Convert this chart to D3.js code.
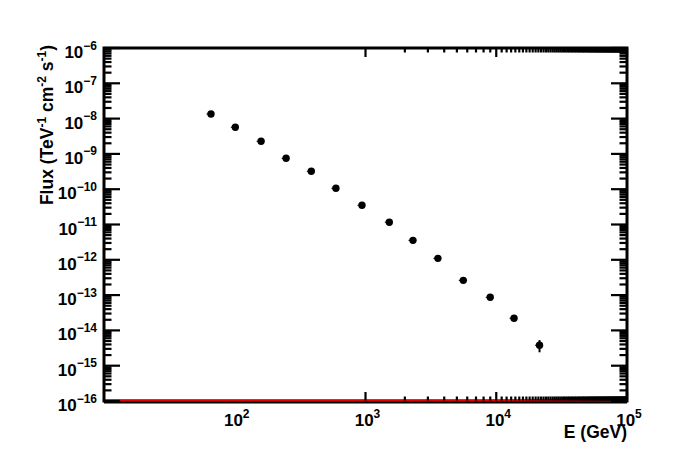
<!DOCTYPE html>
<html><head><meta charset="utf-8">
<script src="https://cdn.jsdelivr.net/npm/d3@7"></script>
<style>body{margin:0;background:#fff}svg{display:block}</style>
</head><body>
<svg id="c" width="698" height="474"></svg>
<script>
// Data (energy in GeV, flux in TeV^-1 cm^-2 s^-1)
const energy = [65.8, 101, 159, 247, 385, 594, 940, 1521, 2308, 3581, 5598, 8990, 13680, 21430];
const flux   = [1.35e-8, 5.68e-9, 2.28e-9, 7.5e-10, 3.21e-10, 1.06e-10, 3.5e-11, 1.16e-11, 3.56e-12, 1.10e-12, 2.62e-13, 8.67e-14, 2.2e-14, 3.8e-15];
const fluxLo = [1.25e-8, 5.3e-9, 2.15e-9, 7.1e-10, 3.03e-10, 1.0e-10, 3.3e-11, 1.09e-11, 3.33e-12, 1.02e-12, 2.4e-13, 7.9e-14, 1.95e-14, 2.4e-15];
const fluxHi = [1.45e-8, 6.1e-9, 2.42e-9, 7.9e-10, 3.4e-10, 1.12e-10, 3.7e-11, 1.23e-11, 3.8e-12, 1.18e-12, 2.85e-13, 9.5e-14, 2.45e-14, 5.3e-15];
const xDomain = [10, 1e5];
const yDomain = [1e-16, 1e-6];
const xTickExp = [2, 3, 4, 5];
const yTickExp = [-6, -7, -8, -9, -10, -11, -12, -13, -14, -15, -16];
const xTitle = "E (GeV)";
const yTitleParts = [["Flux (TeV", 0], ["-1", 1], [" cm", 0], ["-2", 1], [" s", 0], ["-1", 1], [")", 0]];

const svg = d3.select("#c");
const L = 104, R = 627, T = 48, B = 401;
const x = d3.scaleLog().domain(xDomain).range([L, R]);
const y = d3.scaleLog().domain(yDomain).range([B, T]);
const FONT = "'Liberation Sans', Arial, Helvetica, sans-serif";

// frame
svg.append("rect").attr("x", L).attr("y", T).attr("width", R - L).attr("height", B - T)
  .attr("fill", "none").attr("stroke", "#000").attr("stroke-width", 3);

// bottom line and red function line at the floor
svg.append("line").attr("x1", L).attr("x2", R).attr("y1", B + 1.5).attr("y2", B + 1.5)
  .attr("stroke", "#000").attr("stroke-width", 2);
svg.append("line").attr("x1", x(xDomain[0]) + 1.5).attr("x2", x(xDomain[1]) - 1.5)
  .attr("y1", y(yDomain[0]) - 0.5).attr("y2", y(yDomain[0]) - 0.5)
  .attr("stroke", "#e00000").attr("stroke-width", 2);

// minor/major ticks
const xt = x.ticks(100), yt = y.ticks(100);
const isMajor = v => Math.abs(Math.log10(v) - Math.round(Math.log10(v))) < 1e-9;
const g = svg.append("g").attr("stroke", "#000").attr("stroke-width", 2.2);
xt.forEach(v => {
  const px = x(v), len = isMajor(v) ? 9 : 4.5;
  g.append("line").attr("x1", px).attr("x2", px).attr("y1", B - 0.5).attr("y2", B - len);
  g.append("line").attr("x1", px).attr("x2", px).attr("y1", T).attr("y2", T + len);
});
yt.forEach(v => {
  const py = y(v), len = isMajor(v) ? 16 : 7.5;
  g.append("line").attr("x1", L).attr("x2", L + len).attr("y1", py).attr("y2", py);
  g.append("line").attr("x1", R).attr("x2", R - len).attr("y1", py).attr("y2", py);
});

// tick labels
function pow10(sel, exp, anchor, px, py) {
  const t = sel.append("text").attr("x", px).attr("y", py).attr("text-anchor", anchor)
    .attr("font-family", FONT).attr("font-weight", "bold").attr("font-size", 17).attr("fill", "#000");
  t.append("tspan").text("10");
  t.append("tspan").attr("dy", -8.5).attr("font-size", 12).text(String(exp).replace("-", "\u2212"));
  return t;
}
const lab = svg.append("g");
yTickExp.forEach(e => pow10(lab, e, "end", 97, y(Math.pow(10, e)) + 10));
xTickExp.forEach(e => pow10(lab, e, "middle", x(Math.pow(10, e)) + 2, 426));

// axis titles
svg.append("text").attr("x", R).attr("y", 438).attr("text-anchor", "end")
  .attr("font-family", FONT).attr("font-weight", "bold").attr("font-size", 17.5).text(xTitle);
const yt2 = svg.append("text").attr("transform", `translate(53,${T - 3}) rotate(-90)`)
  .attr("text-anchor", "end").attr("font-family", FONT).attr("font-weight", "bold").attr("font-size", 17.5);
yTitleParts.forEach(([s, sup], i) => {
  const prev = i > 0 ? yTitleParts[i - 1][1] : 0;
  const sp = yt2.append("tspan").text(s);
  if (sup && !prev) sp.attr("dy", -7.5).attr("font-size", 12);
  else if (!sup && prev) sp.attr("dy", 7.5);
});

// error bars and markers
const pts = svg.append("g");
energy.forEach((e, i) => {
  pts.append("line").attr("x1", x(e)).attr("x2", x(e)).attr("y1", y(fluxLo[i])).attr("y2", y(fluxHi[i]))
    .attr("stroke", "#000").attr("stroke-width", 2);
  pts.append("line").attr("x1", x(e) - 4.5).attr("x2", x(e)).attr("y1", y(flux[i])).attr("y2", y(flux[i]))
    .attr("stroke", "#000").attr("stroke-width", 1);
});
pts.selectAll("circle").data(energy).join("circle")
  .attr("cx", d => x(d)).attr("cy", (d, i) => y(flux[i])).attr("r", 3.7).attr("fill", "#000");
</script>
</body></html>
